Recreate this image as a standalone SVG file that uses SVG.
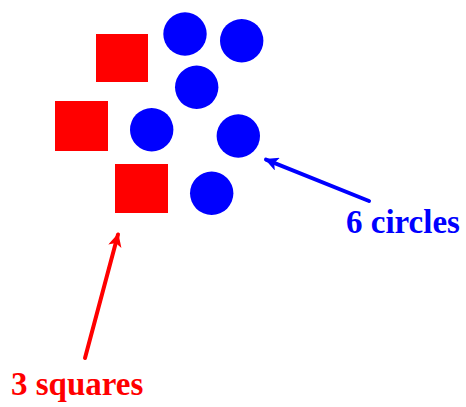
<svg xmlns="http://www.w3.org/2000/svg" width="466" height="407" viewBox="0 0 466 407">
<style>
.sq{fill:#ff0000}
.ci{fill:#0000ff}
.lbl{font-family:"Liberation Serif","Times New Roman",serif;font-weight:bold;font-size:33px}
</style>
<defs>
<marker id="ab" viewBox="0 0 10 10" refX="9" refY="5" markerWidth="4" markerHeight="3.4" orient="auto" markerUnits="strokeWidth"><path d="M0,0L10,5L0,10L2.5,5z" fill="#0000ff"/></marker>
<marker id="ar" viewBox="0 0 10 10" refX="9" refY="5" markerWidth="4" markerHeight="3.4" orient="auto" markerUnits="strokeWidth"><path d="M0,0L10,5L0,10L2.5,5z" fill="#ff0000"/></marker>
</defs>
<rect width="466" height="407" fill="#fff"/>
<g id="square1"><rect class="sq" x="96" y="34" width="52" height="48"/></g>
<g id="square2"><rect class="sq" x="55" y="101" width="53" height="50"/></g>
<g id="square3"><rect class="sq" x="115" y="164" width="53" height="49"/></g>
<g id="circle1"><circle class="ci" cx="185" cy="34" r="21.7"/></g>
<g id="circle2"><circle class="ci" cx="241.7" cy="40.7" r="21.7"/></g>
<g id="circle3"><circle class="ci" cx="196.7" cy="87.3" r="21.7"/></g>
<g id="circle4"><circle class="ci" cx="151.7" cy="129.7" r="21.7"/></g>
<g id="circle5"><circle class="ci" cx="238.3" cy="136" r="21.7"/></g>
<g id="circle6"><circle class="ci" cx="211.7" cy="193.3" r="21.7"/></g>
<g id="connectors">
<line x1="369" y1="201" x2="266" y2="159.6" stroke="#0000ff" stroke-width="4" stroke-linecap="round" marker-end="url(#ab)"/>
<line x1="85" y1="358" x2="118" y2="234.5" stroke="#ff0000" stroke-width="4" stroke-linecap="round" marker-end="url(#ar)"/>
</g>
<g id="label-circles"><text class="lbl" x="346" y="233" fill="#0000ff">6 circles</text></g>
<g id="label-squares"><text class="lbl" x="11" y="395" fill="#ff0000">3 squares</text></g>
</svg>
